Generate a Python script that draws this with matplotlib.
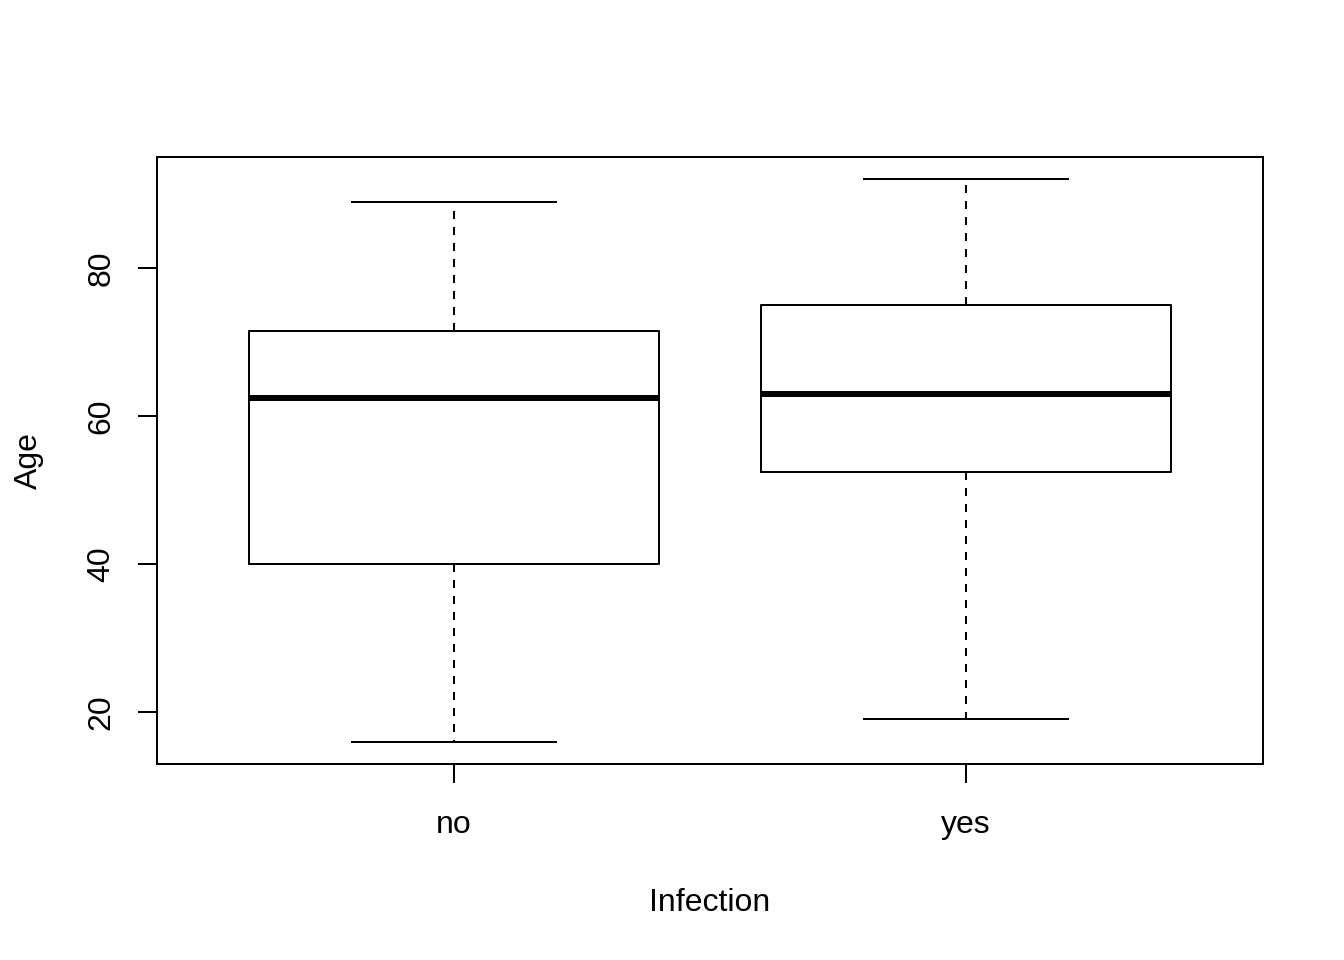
import matplotlib
matplotlib.use("Agg")
import matplotlib.pyplot as plt

plt.rcParams['font.family'] = ['Liberation Sans', 'DejaVu Sans']

groups = ["no", "yes"]
whislo = [16, 19]
q1 = [40, 52.5]
med = [62.5, 63]
q3 = [71.5, 75]
whishi = [89, 92]

stats = []
for i in range(len(groups)):
    stats.append(dict(label=groups[i], whislo=whislo[i], q1=q1[i], med=med[i],
                      q3=q3[i], whishi=whishi[i], fliers=[]))

fig = plt.figure(figsize=(7, 5), dpi=192)
ax = fig.add_axes([157 / 1344, 1 - 764 / 960, (1263 - 157) / 1344, (764 - 157) / 960])

ax.bxp(stats, positions=[1, 2], widths=0.8, showfliers=False,
       boxprops=dict(color="black", linewidth=0.75),
       medianprops=dict(color="black", linewidth=2.25, solid_capstyle="butt"),
       whiskerprops=dict(color="black", linewidth=0.75, linestyle=(0, (4, 4))),
       capprops=dict(color="black", linewidth=0.75),
       capwidths=0.4)

ax.set_xlim(0.42, 2.58)
ax.set_ylim(12.96, 95.04)
ax.set_yticks([20, 40, 60, 80])
ax.set_xticks([1, 2])
ax.set_xticklabels(groups)

for s in ax.spines.values():
    s.set_linewidth(0.75)

ax.tick_params(axis="both", length=7.2, width=0.75, labelsize=12)
ax.tick_params(axis="x", pad=10)
ax.tick_params(axis="y", pad=8)
for lab in ax.get_yticklabels():
    lab.set_rotation(90)
    lab.set_va("center")

ax.set_xlabel("Infection", fontsize=12, labelpad=18)
ax.set_ylabel("Age", fontsize=12, labelpad=16)

fig.savefig("out.png", dpi=192)
